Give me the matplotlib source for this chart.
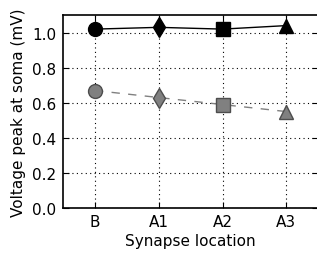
import matplotlib
matplotlib.use('Agg')
import matplotlib.pyplot as plt
import numpy as np

locations = ['B', 'A1', 'A2', 'A3']
markers = ['o', 'd', 's', '^']
peak_black = [1.02, 1.03, 1.02, 1.04]
peak_gray = [0.67, 0.63, 0.59, 0.55]

fig = plt.figure(figsize=(3.17, 2.55), dpi=100)
ax = fig.add_axes([0.199, 0.180, 0.805, 0.757])

x = np.arange(len(locations))
ax.plot(x, peak_black, color='black', lw=1, zorder=2)
ax.plot(x, peak_gray, color='0.5', lw=1, ls='--', dashes=(6, 6), zorder=2)
for i in range(len(locations)):
	ax.plot(x[i], peak_black[i], marker=markers[i], color='black', ms=10, mec='black', zorder=3)
	ax.plot(x[i], peak_gray[i], marker=markers[i], color='0.5', ms=10, mec='0.3', mew=1, zorder=3)

ax.set_xlim(-0.5, 3.5)
ax.set_ylim(0, 1.1)
ax.set_xticks(x)
ax.set_xticklabels(locations)
ax.set_yticks(np.arange(0, 1.01, 0.2))
ax.set_yticklabels(['%.1f' % v for v in np.arange(0, 1.01, 0.2)])
ax.grid(True, color='black', lw=0.8, ls=(0, (1, 3)))
ax.tick_params(direction='in', top=True, right=True, labelsize=11, length=4, pad=4)
ax.tick_params(axis='y', pad=5)
for s in ax.spines.values():
	s.set_linewidth(1.2)
ax.set_xlabel('Synapse location', fontsize=11, labelpad=3)
ax.set_ylabel('Voltage peak at soma (mV)', fontsize=11)

fig.savefig('out.png', dpi=100)
